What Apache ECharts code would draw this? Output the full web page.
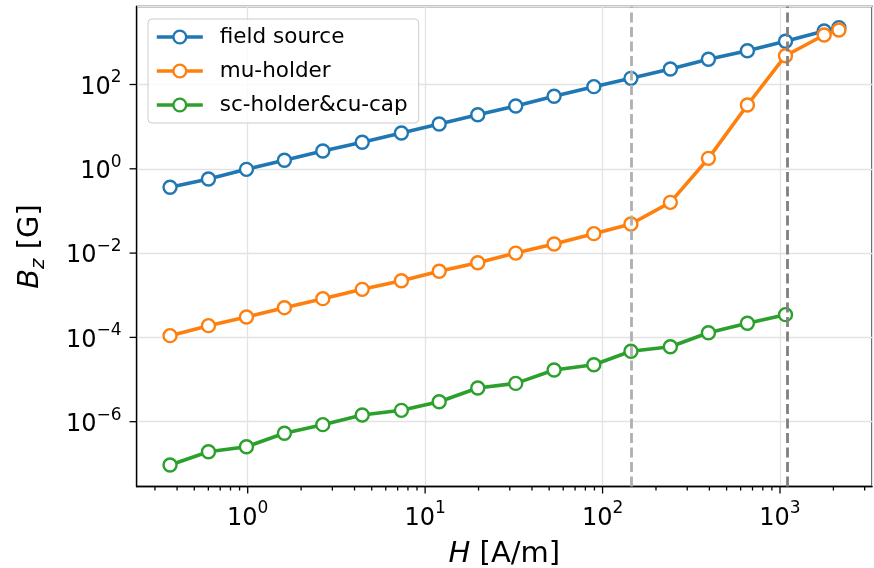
<!DOCTYPE html>
<html>
<head>
<meta charset="utf-8">
<script src="https://cdn.jsdelivr.net/npm/echarts@6/dist/echarts.min.js"></script>
<style>
  html, body { margin: 0; padding: 0; background: #ffffff; }
  #chart { width: 874px; height: 568px; }
</style>
</head>
<body>
<div id="chart"></div>
<script>
// Applied field H [A/m] at each measurement step
const H = [0.365, 0.601, 0.984, 1.61, 2.65, 4.42, 7.35, 12.0, 19.8, 32.4, 53.3, 89.3,
           144.5, 241, 395, 655, 1074, 1774, 2148];

// Measured Bz [G]
const fieldSource = [0.364, 0.573, 0.97, 1.59, 2.64, 4.25, 7.07, 11.6, 19.2, 30.9, 52.5, 89,
                     140, 233, 396, 634, 1059, 1860, 2230];
const muHolder = [1.1e-4, 1.9e-4, 3.05e-4, 5.07e-4, 8.3e-4, 1.38e-3, 2.21e-3, 3.7e-3, 5.9e-3,
                  1.0e-2, 1.64e-2, 2.89e-2, 4.9e-2, 0.16, 1.77, 32.6, 482, 1494, 1963];
const scHolderCuCap = [9.4e-8, 1.94e-7, 2.55e-7, 5.3e-7, 8.5e-7, 1.44e-6, 1.86e-6, 2.98e-6,
                       6.3e-6, 8.1e-6, 1.68e-5, 2.25e-5, 4.68e-5, 6.0e-5, 1.29e-4, 2.16e-4, 3.46e-4];

const seriesNames = ['field source', 'mu-holder', 'sc-holder&cu-cap'];

// Reference field levels marked by dashed verticals
const guideH = [145, 1100];

// Axis ranges and tick positions
const xRange = [0.2365, 3300];
const yRange = [2.9e-8, 7090];
const xMajorTicks = [1, 10, 100, 1000];
const xMinorTicks = [0.3, 0.4, 0.5, 0.6, 0.7, 0.8, 0.9,
                     2, 3, 4, 5, 6, 7, 8, 9,
                     20, 30, 40, 50, 60, 70, 80, 90,
                     200, 300, 400, 500, 600, 700, 800, 900,
                     2000, 3000];
const yMajorTicks = [1e-6, 1e-4, 1e-2, 1, 1e2];

const colors = ['#1f77b4', '#ff7f0e', '#2ca02c'];
const FONT = 'DejaVu Sans';

function pairs(xs, ys) {
  return ys.map((y, i) => [xs[i], y]);
}

function powLabel(v) {
  const l = Math.log10(v);
  const e = Math.round(l);
  if (Math.abs(l - e) > 1e-6) return '';
  const exp = e < 0 ? '\u2212' + (-e) : String(e);
  return '{b|10}{s|' + exp + '}';
}

const labelRich = {
  b: { fontFamily: FONT, fontSize: 24, color: '#000', lineHeight: 30, verticalAlign: 'bottom' },
  s: { fontFamily: FONT, fontSize: 17, color: '#000', lineHeight: 30, verticalAlign: 'top' }
};

function dataSeries(name, ys, idx) {
  return {
    name: name,
    type: 'line',
    data: pairs(H, ys),
    color: colors[idx],
    symbol: 'circle',
    symbolSize: 13,
    lineStyle: { color: colors[idx], width: 3.6 },
    itemStyle: { color: '#ffffff', borderColor: colors[idx], borderWidth: 2.4 },
    emphasis: { disabled: true },
    z: 2 + idx
  };
}

// Tick marks drawn through the axis scales
function tickSeries(values, len, dir) {
  return {
    type: 'custom',
    silent: true,
    clip: false,
    z: 10,
    data: values.map(v => [v]),
    renderItem: function (params, api) {
      const v = api.value(0);
      let x1, y1, x2, y2;
      if (dir === 'x') {
        const p = api.coord([v, yRange[0]]);
        x1 = p[0]; y1 = p[1]; x2 = p[0]; y2 = p[1] + len;
      } else {
        const p = api.coord([xRange[0], v]);
        x1 = p[0]; y1 = p[1]; x2 = p[0] - len; y2 = p[1];
      }
      return {
        type: 'line',
        shape: { x1: x1, y1: y1, x2: x2, y2: y2 },
        style: { stroke: '#000', lineWidth: 1.3 }
      };
    }
  };
}

const chart = echarts.init(document.getElementById('chart'), null, { renderer: 'canvas' });

chart.setOption({
  animation: false,
  backgroundColor: '#ffffff',
  grid: {
    left: 136.6, right: 2, top: 6.5, bottom: 81.5,
    show: true, borderColor: '#000', borderWidth: 1.3,
    containLabel: false, outerBoundsMode: 'none'
  },
  legend: {
    data: seriesNames,
    orient: 'vertical',
    left: 148, top: 19,
    padding: [5, 11, 5, 7],
    itemWidth: 46, itemHeight: 16, itemGap: 8,
    backgroundColor: 'rgba(255,255,255,0.8)',
    borderColor: '#cccccc', borderWidth: 1, borderRadius: 4,
    lineStyle: { width: 3.6 },
    itemStyle: { borderWidth: 2.4 },
    textStyle: { fontFamily: FONT, fontSize: 21.5, color: '#000', lineHeight: 26, padding: [0, 0, 0, 12] },
    selectedMode: false
  },
  xAxis: {
    type: 'log',
    logBase: 10,
    min: xRange[0], max: xRange[1],
    name: '{i|H} [A/m]',
    nameLocation: 'middle',
    nameGap: 53,
    nameTextStyle: {
      fontFamily: FONT, fontSize: 29, color: '#000',
      rich: { i: { fontFamily: FONT, fontSize: 29, fontStyle: 'italic', color: '#000' } }
    },
    axisLine: { show: true, lineStyle: { color: '#000', width: 1.3 } },
    axisTick: { show: false },
    axisLabel: { formatter: powLabel, rich: labelRich, margin: 14, showMinLabel: false, showMaxLabel: false },
    splitLine: { show: true, lineStyle: { color: '#e3e3e3', width: 1.3 } },
    minorTick: { show: false },
    minorSplitLine: { show: false }
  },
  yAxis: {
    type: 'log',
    logBase: 100,
    min: yRange[0], max: yRange[1],
    name: '{i|B}{sub|z} [G]',
    nameLocation: 'middle',
    nameGap: 88,
    nameTextStyle: {
      fontFamily: FONT, fontSize: 29, color: '#000', lineHeight: 36,
      rich: {
        i: { fontFamily: FONT, fontSize: 29, fontStyle: 'italic', color: '#000', lineHeight: 36, verticalAlign: 'middle' },
        sub: { fontFamily: FONT, fontSize: 20, fontStyle: 'italic', color: '#000', lineHeight: 36, verticalAlign: 'bottom', padding: [0, 0, 0, 0] }
      }
    },
    axisLine: { show: true, lineStyle: { color: '#000', width: 1.3 } },
    axisTick: { show: false },
    axisLabel: { formatter: powLabel, rich: labelRich, margin: 15, showMinLabel: false, showMaxLabel: false },
    splitLine: { show: true, lineStyle: { color: '#e3e3e3', width: 1.3 } },
    minorTick: { show: false },
    minorSplitLine: { show: false }
  },
  series: [
    dataSeries(seriesNames[0], fieldSource, 0),
    dataSeries(seriesNames[1], muHolder, 1),
    dataSeries(seriesNames[2], scHolderCuCap, 2),
    {
      name: 'guides',
      type: 'line',
      data: [],
      z: 8,
      markLine: {
        silent: true,
        symbol: ['none', 'none'],
        label: { show: false },
        animation: false,
        lineStyle: { type: [10, 4.5], width: 2.8 },
        data: [
          { xAxis: guideH[0], lineStyle: { color: '#b0b0b0', type: [10, 4.5], width: 2.8 } },
          { xAxis: guideH[1], lineStyle: { color: '#808080', type: [10, 4.5], width: 2.8 } }
        ]
      }
    },
    tickSeries(xMajorTicks, 7, 'x'),
    tickSeries(xMinorTicks, 4, 'x'),
    tickSeries(yMajorTicks, 7, 'y')
  ]
});
</script>
</body>
</html>
